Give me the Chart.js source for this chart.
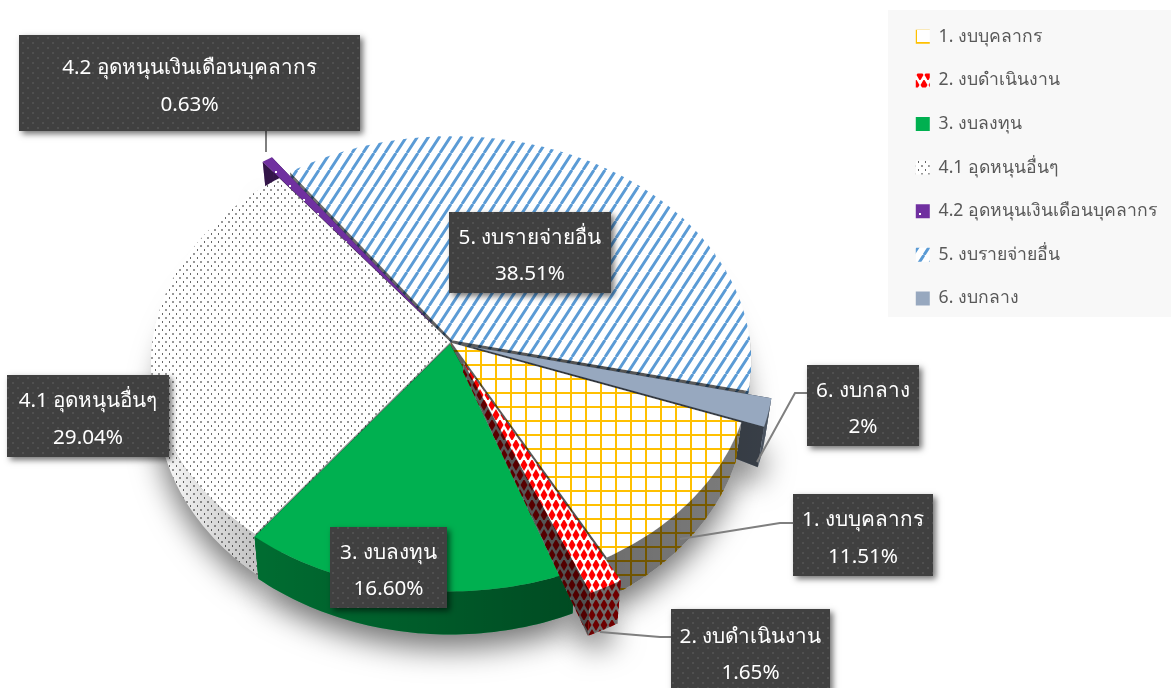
<!DOCTYPE html>
<html>
<head>
<meta charset="utf-8">
<title>สัดส่วนงบประมาณ</title>
<script src="https://cdn.jsdelivr.net/npm/chart.js@4/dist/chart.umd.js"></script>
<style>
  html, body { margin: 0; padding: 0; background: #fff; }
  #wrap { position: relative; width: 1171px; height: 688px; overflow: hidden; }
</style>
</head>
<body>
<div id="wrap"><canvas id="budgetPie" width="1171" height="688"></canvas></div>
<script>
// data
const categories = ['1. งบบุคลากร', '2. งบดำเนินงาน', '3. งบลงทุน', '4.1 อุดหนุนอื่นๆ', '4.2 อุดหนุนเงินเดือนบุคลากร', '5. งบรายจ่ายอื่น', '6. งบกลาง'];
const budgetShare = [11.51, 1.65, 16.60, 29.04, 0.63, 38.51, 2];
const shareLabels = ['11.51%', '1.65%', '16.60%', '29.04%', '0.63%', '38.51%', '2%'];
const sliceOffsets = [2, 30, 3, 0, 32, 3, 24];

const FONT = '"Noto Sans", Tahoma, sans-serif';

// callout boxes: x, y, w, h, then the leader line points (same order as categories)
const callouts = [
  { box: [793, 494, 140, 82], line: [[793, 523], [780, 523], [680, 539]] },
  { box: [671, 609, 159, 85], line: [[671, 637], [660, 637], [600, 632]] },
  { box: [330, 527, 117, 81], line: [] },
  { box: [7, 375, 162, 82], line: [] },
  { box: [19, 35, 341, 96], line: [[266, 131], [266, 152]] },
  { box: [449, 212, 162, 81], line: [] },
  { box: [807, 365, 112, 81], line: [[807, 393], [795, 393], [757, 462]] },
];

function tile(w, h, paint) {
  const c = document.createElement('canvas');
  c.width = w;
  c.height = h;
  paint(c.getContext('2d'));
  return document.createElement('canvas').getContext('2d').createPattern(c, 'repeat');
}

const gridPattern = tile(15, 14, (g) => {
  g.fillStyle = '#fff';
  g.fillRect(0, 0, 15, 14);
  g.fillStyle = '#FFC000';
  g.fillRect(0, 0, 2, 14);
  g.fillRect(0, 0, 15, 2);
});

const diamondPattern = tile(8, 20, (g) => {
  g.fillStyle = '#fff';
  g.fillRect(0, 0, 8, 20);
  g.fillStyle = '#FF0000';
  const diamond = (x, y) => {
    g.beginPath();
    g.moveTo(x, y - 6);
    g.lineTo(x + 3.5, y);
    g.lineTo(x, y + 6);
    g.lineTo(x - 3.5, y);
    g.fill();
  };
  diamond(4, 5);
  diamond(0, 15);
  diamond(8, 15);
});

const dotPattern = tile(7, 8, (g) => {
  g.fillStyle = '#fff';
  g.fillRect(0, 0, 7, 8);
  g.fillStyle = '#666';
  g.fillRect(1, 1, 1, 2);
  g.fillStyle = '#999';
  g.fillRect(4, 5, 2, 2);
});

const purplePattern = tile(14, 14, (g) => {
  g.fillStyle = '#7030A0';
  g.fillRect(0, 0, 14, 14);
  g.fillStyle = '#fff';
  g.fillRect(9, 3, 2, 2);
});

const stripePattern = tile(11, 17, (g) => {
  g.fillStyle = '#fff';
  g.fillRect(0, 0, 11, 17);
  g.strokeStyle = '#5B9BD5';
  g.lineWidth = 2.9;
  g.beginPath();
  for (let i = -11; i <= 22; i += 11) {
    g.moveTo(i, 17);
    g.lineTo(i + 11, 0);
  }
  g.stroke();
});

const calloutPattern = tile(10, 10, (g) => {
  g.fillStyle = '#404040';
  g.fillRect(0, 0, 10, 10);
  g.fillStyle = '#505050';
  g.fillRect(2, 2, 2, 2);
  g.fillRect(7, 7, 2, 2);
});

const sliceFills = [gridPattern, diamondPattern, '#00B050', dotPattern, purplePattern, stripePattern, '#97A8BF'];

// perspective of the tilted disc
const TILT = 0.75;
const PERSP = 0.094;
const DEPTH = 39;
const paintOrder = [5, 4, 6, 3, 0, 2, 1];

function toScreen(arc, angle, rad, z) {
  const R = arc.outerRadius;
  const mid = (arc.startAngle + arc.endAngle) / 2;
  const off = arc.options.offset || 0;
  const u = (off * Math.cos(mid) + rad * Math.cos(angle)) / R;
  const v = (off * Math.sin(mid) + rad * Math.sin(angle)) / R;
  const w = 1 - PERSP * v;
  return [
    arc.x + (R * u / w) * (1 - 0.02 * z),
    arc.y + (R * TILT * v) / w + (DEPTH * z) / w,
  ];
}

function rimPoints(arc, a0, a1, z) {
  const pts = [];
  const n = Math.max(2, Math.ceil(Math.abs(a1 - a0) / 0.02));
  for (let i = 0; i <= n; i++) {
    pts.push(toScreen(arc, a0 + ((a1 - a0) * i) / n, arc.outerRadius, z));
  }
  return pts;
}

function polyPath(ctx, pts) {
  ctx.beginPath();
  pts.forEach((p, i) => (i ? ctx.lineTo(p[0], p[1]) : ctx.moveTo(p[0], p[1])));
  ctx.closePath();
}

function paintWall(ctx, pts, fill, shade, extra) {
  polyPath(ctx, pts);
  ctx.fillStyle = fill;
  ctx.fill();
  ctx.fillStyle = shade;
  ctx.fill();
  if (extra) {
    ctx.fillStyle = 'rgba(0,0,0,' + extra + ')';
    ctx.fill();
  }
}

function drawSlice(ctx, arc, fill, shade) {
  const a0 = arc.startAngle;
  const a1 = arc.endAngle;
  const apexTop = toScreen(arc, 0, 0, 0);
  // the radial walls taper towards the apex
  const apexBottom = toScreen(arc, 0, 0, 0.25);

  [a0, a1].forEach((a) => {
    paintWall(ctx, [apexTop, toScreen(arc, a, arc.outerRadius, 0), toScreen(arc, a, arc.outerRadius, 1), apexBottom], fill, shade, 0.25);
  });

  // outer rim, only the part facing the viewer
  const step = 0.02;
  let from = null;
  for (let a = a0; a <= a1 + step; a += step) {
    const cur = Math.min(a, a1);
    const front = Math.sin(cur) > -0.02;
    if (front && from === null) from = cur;
    if ((!front || cur === a1) && from !== null) {
      paintWall(ctx, rimPoints(arc, from, cur, 0).concat(rimPoints(arc, cur, from, 1)), fill, shade, 0);
      from = null;
    }
    if (cur === a1) break;
  }

  // top face
  polyPath(ctx, [apexTop].concat(rimPoints(arc, a0, a1, 0)));
  ctx.fillStyle = fill;
  ctx.fill();
}

const pie3dPlugin = {
  id: 'pie3d',
  beforeDraw(chart) {
    const ctx = chart.ctx;
    ctx.save();
    ctx.fillStyle = '#F8F8F8';
    ctx.fillRect(888, 10, 283, 307);
    ctx.restore();
  },
  beforeDatasetDraw(chart) {
    const ctx = chart.ctx;
    const arcs = chart.getDatasetMeta(0).data;
    const R = arcs[0].outerRadius;
    const cx = arcs[0].x;

    // soft shadow under the pie, the shape itself stays off the canvas
    ctx.save();
    ctx.shadowColor = 'rgba(0,0,0,0.55)';
    ctx.shadowBlur = 30;
    ctx.shadowOffsetX = 3000;
    ctx.shadowOffsetY = 14;
    ctx.fillStyle = '#000';
    arcs.forEach((arc) => {
      const pts = [toScreen(arc, 0, 0, 1)].concat(rimPoints(arc, arc.startAngle, arc.endAngle, 1));
      polyPath(ctx, pts.map((p) => [p[0] - 3000, p[1]]));
      ctx.fill();
    });
    ctx.restore();

    const shade = ctx.createLinearGradient(cx - R, 0, cx + R + 20, 0);
    shade.addColorStop(0, 'rgba(0,0,0,0.05)');
    shade.addColorStop(0.16, 'rgba(0,0,0,0.38)');
    shade.addColorStop(0.7, 'rgba(0,0,0,0.58)');
    shade.addColorStop(1, 'rgba(0,0,0,0.5)');

    const lightShade = ctx.createLinearGradient(cx - R, 0, cx - R + 110, 0);
    lightShade.addColorStop(0, 'rgba(0,0,0,0)');
    lightShade.addColorStop(1, 'rgba(0,0,0,0.25)');

    paintOrder.forEach((i) => {
      drawSlice(ctx, arcs[i], sliceFills[i], sliceFills[i] === dotPattern ? lightShade : shade);
    });
    return false;
  },
  afterDraw(chart) {
    const ctx = chart.ctx;
    ctx.save();
    callouts.forEach((c, i) => {
      if (c.line.length) {
        ctx.strokeStyle = '#7F7F7F';
        ctx.lineWidth = 2;
        ctx.beginPath();
        c.line.forEach((p, k) => (k ? ctx.lineTo(p[0], p[1]) : ctx.moveTo(p[0], p[1])));
        ctx.stroke();
      }
      const [x, y, w, h] = c.box;
      ctx.save();
      ctx.shadowColor = 'rgba(0,0,0,0.55)';
      ctx.shadowBlur = 6;
      ctx.shadowOffsetX = 3;
      ctx.shadowOffsetY = 3;
      ctx.fillStyle = '#404040';
      ctx.fillRect(x, y, w, h);
      ctx.restore();
      ctx.fillStyle = calloutPattern;
      ctx.fillRect(x, y, w, h);
      ctx.fillStyle = '#fff';
      ctx.font = '20.7px ' + FONT;
      ctx.textAlign = 'center';
      ctx.textBaseline = 'middle';
      const mid = y + h / 2;
      ctx.fillText(categories[i], x + w / 2, mid - 14.5);
      ctx.fillText(shareLabels[i], x + w / 2, mid + 22);
    });
    ctx.restore();
  },
};

new Chart(document.getElementById('budgetPie'), {
  type: 'pie',
  data: {
    labels: categories,
    datasets: [{
      data: budgetShare,
      backgroundColor: sliceFills,
      borderWidth: 0,
      offset: sliceOffsets,
    }],
  },
  plugins: [pie3dPlugin],
  options: {
    responsive: false,
    animation: false,
    rotation: 110.1,
    radius: 298,
    layout: { padding: { left: 11, right: 4, top: 2, bottom: 6 } },
    plugins: {
      tooltip: { enabled: false },
      title: { display: false },
      legend: {
        position: 'right',
        align: 'start',
        labels: {
          boxWidth: 14,
          boxHeight: 14,
          padding: 26,
          color: '#595959',
          font: { family: FONT, size: 17.6 },
        },
      },
    },
  },
});
</script>
</body>
</html>
